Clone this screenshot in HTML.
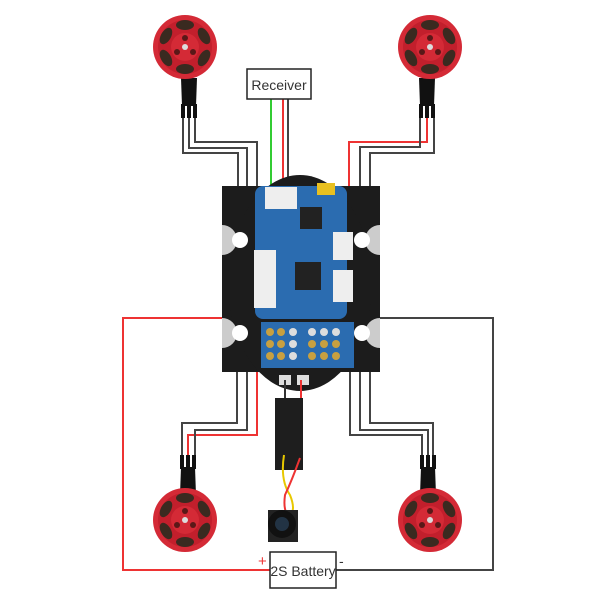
<!DOCTYPE html>
<html><head><style>body{margin:0;background:#fff}svg{display:block}</style></head><body>
<svg width="600" height="600" viewBox="0 0 600 600" xmlns="http://www.w3.org/2000/svg">
<defs>
<g id="motor">
<circle r="32" fill="#d42a36"/>
<circle r="27" fill="#c21f2c"/>
<g fill="#3a2a20">
<ellipse cx="0" cy="-22" rx="9" ry="5"/><ellipse cx="19" cy="-11" rx="5" ry="9" transform="rotate(-30 19 -11)"/>
<ellipse cx="19" cy="11" rx="5" ry="9" transform="rotate(30 19 11)"/><ellipse cx="0" cy="22" rx="9" ry="5"/>
<ellipse cx="-19" cy="11" rx="5" ry="9" transform="rotate(-30 -19 11)"/><ellipse cx="-19" cy="-11" rx="5" ry="9" transform="rotate(30 -19 -11)"/>
</g>
<circle r="14" fill="#d42a36"/>
<g fill="#5a1818"><circle cx="0" cy="-9" r="3"/><circle cx="8" cy="5" r="3"/><circle cx="-8" cy="5" r="3"/></g>
<circle r="3" fill="#ddd"/>
</g>
<g id="lead">
<path d="M-8 0 L8 0 L7 28 L-7 28 Z" fill="#111"/>
<rect x="-8" y="26" width="4" height="14" fill="#111"/><rect x="-2" y="26" width="4" height="14" fill="#111"/><rect x="4" y="26" width="4" height="14" fill="#111"/>
</g>
</defs>
<g fill="none" stroke-width="2">
<polyline points="183,115 183,153 238,153 238,190" stroke="#444"/>
<polyline points="189,115 189,148 247,148 247,190" stroke="#444"/>
<polyline points="195,115 195,142 257,142 257,190" stroke="#444"/>
<polyline points="427,115 427,142 349,142 349,190" stroke="#e33"/>
<polyline points="420,115 420,147 360,147 360,190" stroke="#444"/>
<polyline points="434,115 434,153 370,153 370,190" stroke="#444"/>
<polyline points="182,460 182,423 237,423 237,370" stroke="#444"/>
<polyline points="188,460 188,435 257,435 257,370" stroke="#e33"/>
<polyline points="195,460 195,430 247,430 247,370" stroke="#444"/>
<polyline points="422,460 422,435 350,435 350,370" stroke="#444"/>
<polyline points="428,460 428,430 360,430 360,370" stroke="#444"/>
<polyline points="433,460 433,423 370,423 370,370" stroke="#444"/>
<line x1="271" y1="99" x2="271" y2="188" stroke="#3c3"/>
<line x1="283" y1="99" x2="283" y2="188" stroke="#e33"/>
<line x1="288" y1="99" x2="288" y2="188" stroke="#444"/>
<polyline points="250,318 123,318 123,570 270,570" stroke="#e33"/>
<polyline points="336,570 493,570 493,318 355,318" stroke="#444"/>
</g>
<use href="#lead" x="189" y="78"/><use href="#lead" x="427" y="78"/>
<g transform="translate(188,495) scale(1,-1)"><use href="#lead"/></g>
<g transform="translate(428,495) scale(1,-1)"><use href="#lead"/></g>
<use href="#motor" x="185" y="47"/><use href="#motor" x="430" y="47"/>
<use href="#motor" x="185" y="520"/><use href="#motor" x="430" y="520"/>
<rect x="222" y="186" width="158" height="186" fill="#1c1c1c"/>
<ellipse cx="300" cy="283" rx="72" ry="108" fill="#1c1c1c"/>
<path d="M222 225 a15 15 0 0 1 0 30 Z M380 225 a15 15 0 0 0 0 30 Z M222 318 a15 15 0 0 1 0 30 Z M380 318 a15 15 0 0 0 0 30 Z" fill="#ccc"/>
<circle cx="240" cy="240" r="8" fill="#fff"/><circle cx="362" cy="240" r="8" fill="#fff"/>
<circle cx="240" cy="333" r="8" fill="#fff"/><circle cx="362" cy="333" r="8" fill="#fff"/>
<rect x="255" y="186" width="92" height="133" rx="8" fill="#2b6cb0"/>
<rect x="265" y="187" width="32" height="22" fill="#eee"/>
<rect x="317" y="183" width="18" height="12" fill="#e8c020"/>
<rect x="300" y="207" width="22" height="22" fill="#222"/>
<rect x="295" y="262" width="26" height="28" fill="#222"/>
<rect x="333" y="232" width="20" height="28" fill="#eee"/>
<rect x="333" y="270" width="20" height="32" fill="#eee"/>
<rect x="254" y="250" width="22" height="58" fill="#eee"/>
<rect x="261" y="322" width="93" height="46" fill="#2b6cb0"/>
<g fill="#c8a040"><circle cx="270" cy="332" r="4"/><circle cx="281" cy="332" r="4"/><circle cx="270" cy="344" r="4"/><circle cx="281" cy="344" r="4"/><circle cx="270" cy="356" r="4"/><circle cx="281" cy="356" r="4"/>
<circle cx="312" cy="344" r="4"/><circle cx="324" cy="344" r="4"/><circle cx="336" cy="344" r="4"/><circle cx="312" cy="356" r="4"/><circle cx="324" cy="356" r="4"/><circle cx="336" cy="356" r="4"/></g>
<g fill="#ddd"><circle cx="293" cy="332" r="4"/><circle cx="293" cy="344" r="4"/><circle cx="293" cy="356" r="4"/><circle cx="312" cy="332" r="4"/><circle cx="324" cy="332" r="4"/><circle cx="336" cy="332" r="4"/></g>
<rect x="279" y="375" width="12" height="10" fill="#ddd"/><rect x="297" y="375" width="12" height="10" fill="#ddd"/>
<line x1="285" y1="380" x2="285" y2="400" stroke="#333" stroke-width="2"/>
<line x1="301" y1="380" x2="301" y2="400" stroke="#e33" stroke-width="2"/>
<rect x="275" y="398" width="28" height="72" fill="#1e1e1e"/>
<path d="M284 455 Q280 480 290 495 Q296 510 290 515" stroke="#e8c800" stroke-width="2" fill="none"/>
<path d="M300 458 Q292 480 285 495 Q283 510 288 515" stroke="#e33" stroke-width="2" fill="none"/>
<rect x="268" y="510" width="30" height="32" fill="#222"/>
<circle cx="282" cy="524" r="14" fill="#111"/><circle cx="282" cy="524" r="7" fill="#234"/>
<rect x="247" y="69" width="64" height="30" fill="#fff" stroke="#222" stroke-width="1.5"/>
<text x="279" y="90" font-family="Liberation Sans, sans-serif" font-size="14" text-anchor="middle" fill="#333">Receiver</text>
<rect x="270" y="552" width="66" height="36" fill="#fff" stroke="#222" stroke-width="1.5"/>
<text x="303" y="576" font-family="Liberation Sans, sans-serif" font-size="14" text-anchor="middle" fill="#333">2S Battery</text>
<text x="258" y="566" font-family="Liberation Sans, sans-serif" font-size="15" fill="#e33">+</text>
<text x="339" y="566" font-family="Liberation Sans, sans-serif" font-size="14" fill="#333">-</text>
</svg>
</body></html>
